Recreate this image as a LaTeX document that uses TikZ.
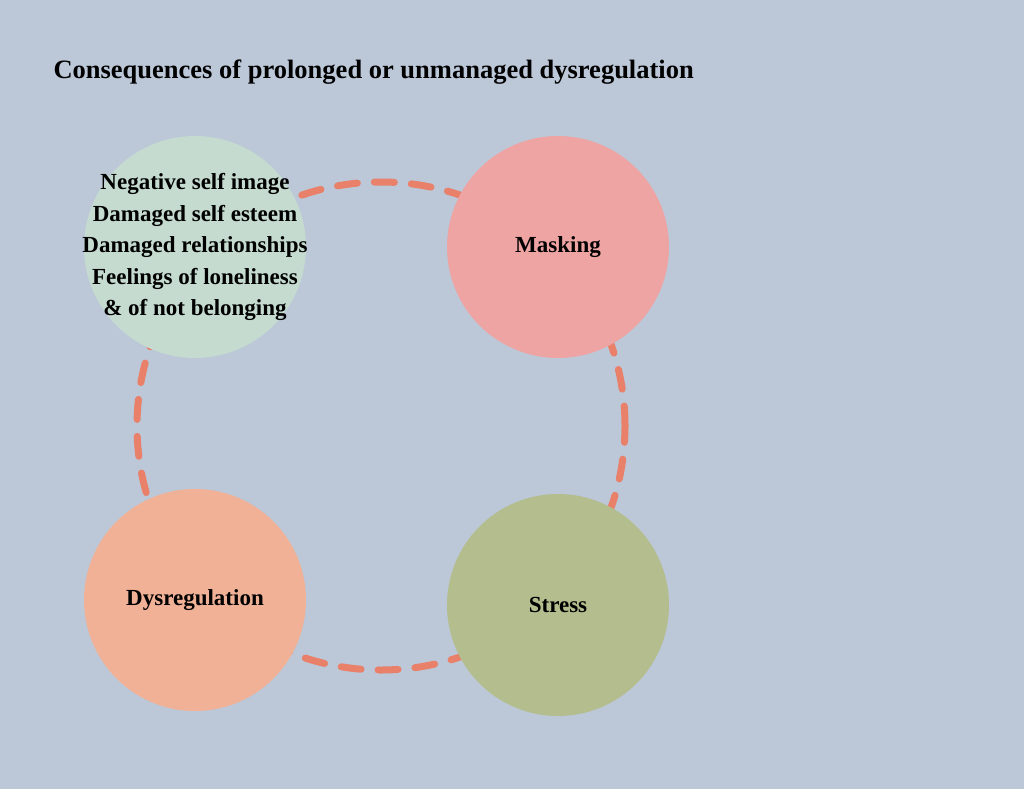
\documentclass[tikz,border=0pt]{standalone}
\usepackage{fontspec}
\setmainfont{Liberation Serif}
\definecolor{bgblue}{HTML}{BCC8D8}
\definecolor{loopred}{HTML}{E8806A}
\definecolor{circgreen}{HTML}{C5DBD0}
\definecolor{circpink}{HTML}{EDA4A3}
\definecolor{circpeach}{HTML}{F0B196}
\definecolor{circolive}{HTML}{B4BD8D}
\begin{document}
\begin{tikzpicture}[x=1pt,y=-1pt,
    blob/.style={circle,minimum size=222pt,inner sep=0pt,align=center,
      font=\fontsize{23}{31.5}\selectfont\bfseries}]
  \fill[bgblue] (0,0) rectangle (1024,789);
  \useasboundingbox (0,0) rectangle (1024,789);
  \node[anchor=west,font=\fontsize{26.5}{30}\selectfont\bfseries] (title) at (50,72)
    {Consequences of prolonged or unmanaged dysregulation};
  % the cycle behind the circles
  \coordinate (hub) at (381,426);
  \draw[loopred,line width=7pt,line cap=round,dash pattern=on 20pt off 17pt]
    (hub) circle[radius=244pt];
      \node[blob,fill=circgreen] (effects) at (195,247) {};
      \node[blob,minimum size=0pt] (effectstext) at (effects.center)
        {Negative self image\\Damaged self esteem\\Damaged relationships\\Feelings of loneliness\\\& of not belonging};
      \node[blob,fill=circpink] (mask) at (558,247) {Masking};
      \node[blob,fill=circpeach] (dysreg) at (195,600) {Dysregulation};
      \node[blob,fill=circolive] (stress) at (558,605) {Stress};
\end{tikzpicture}
\end{document}
